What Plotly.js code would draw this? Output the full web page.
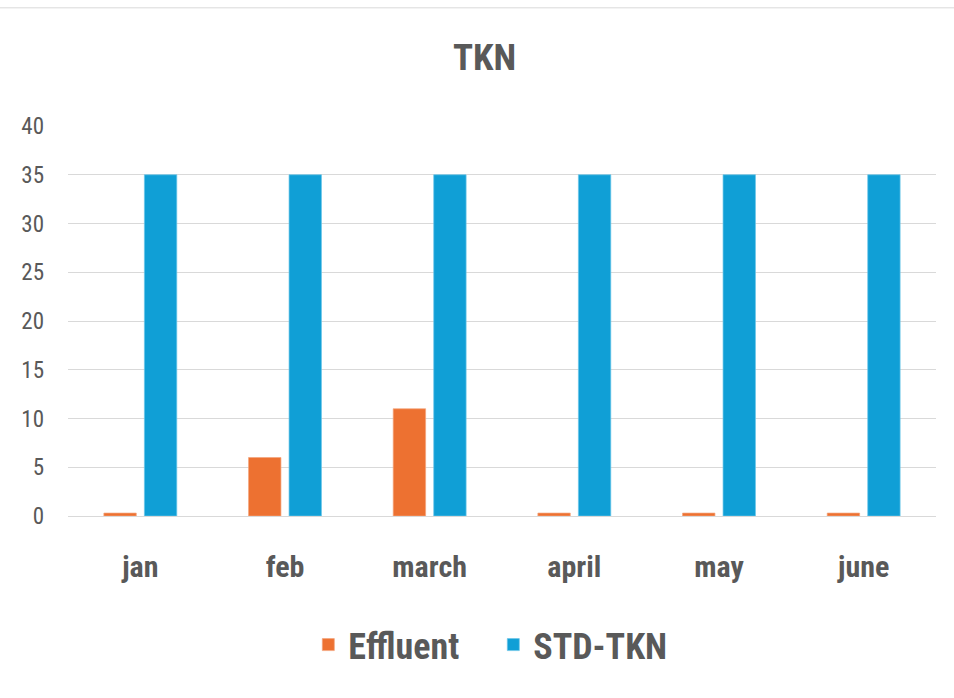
<!DOCTYPE html>
<html><head><meta charset="utf-8">
<script src="https://cdn.plot.ly/plotly-3.0.1.min.js"></script>
<style>html,body{margin:0;padding:0;background:#fff}</style>
</head><body>
<div id="chart" style="width:954px;height:698px"></div>
<script>
var categories = ["jan", "feb", "march", "april", "may", "june"];
var effluent = [0.3, 6, 11, 0.3, 0.3, 0.3];
var stdTkn = [35, 35, 35, 35, 35, 35];
var yTicks = [0, 5, 10, 15, 20, 25, 30, 35, 40];

var fontFam = "'Liberation Sans Narrow', 'Roboto Condensed', Roboto, sans-serif";
var txt = "#595959";

var data = [
  {type: "bar", name: "<b>Effluent</b>", x: categories, y: effluent,
   marker: {color: "#ED7131", line: {color: "#F4A57C", width: 0.7}}},
  {type: "bar", name: "<b>STD-TKN</b>", x: categories, y: stdTkn,
   marker: {color: "#109FD6", line: {color: "#6CC6EA", width: 0.7}}}
];

var layout = {
  width: 954, height: 698,
  margin: {l: 68, r: 18, t: 126, b: 182},
  paper_bgcolor: "#fff", plot_bgcolor: "#fff",
  title: {text: "<b>TKN</b>", x: 0.508, xanchor: "center", y: 0.918, yanchor: "middle",
          font: {family: fontFam, size: 37, color: txt}},
  barmode: "group", bargap: 0.44, bargroupgap: 0.2,
  xaxis: {type: "category", tickfont: {family: fontFam, size: 30, color: txt},
          showgrid: false, zeroline: false, showline: true, linecolor: "#d9d9d9", linewidth: 1,
          ticks: "", ticklabelstandoff: 24, fixedrange: true,
          tickprefix: "<b>", ticksuffix: "</b>"},
  yaxis: {range: [0, 40], tickvals: yTicks, tickfont: {family: fontFam, size: 23, color: txt},
          showgrid: true, gridcolor: "#d9d9d9", gridwidth: 1, zeroline: false,
          ticks: "", ticklabelstandoff: 23, showline: false},
  showlegend: true,
  legend: {orientation: "h", x: 0.49, xanchor: "center", y: -0.33, yanchor: "middle",
           font: {family: fontFam, size: 36, color: txt}, itemwidth: 30,
           entrywidth: 140, entrywidthmode: "pixels",
           traceorder: "normal"},
  shapes: [{type: "line", xref: "paper", yref: "paper", x0: -0.08, x1: 1.03,
            y0: 1.303, y1: 1.303, line: {color: "#d9d9d9", width: 1}}]
};
Plotly.newPlot("chart", data, layout, {displayModeBar: false, staticPlot: true});
</script>
</body></html>
